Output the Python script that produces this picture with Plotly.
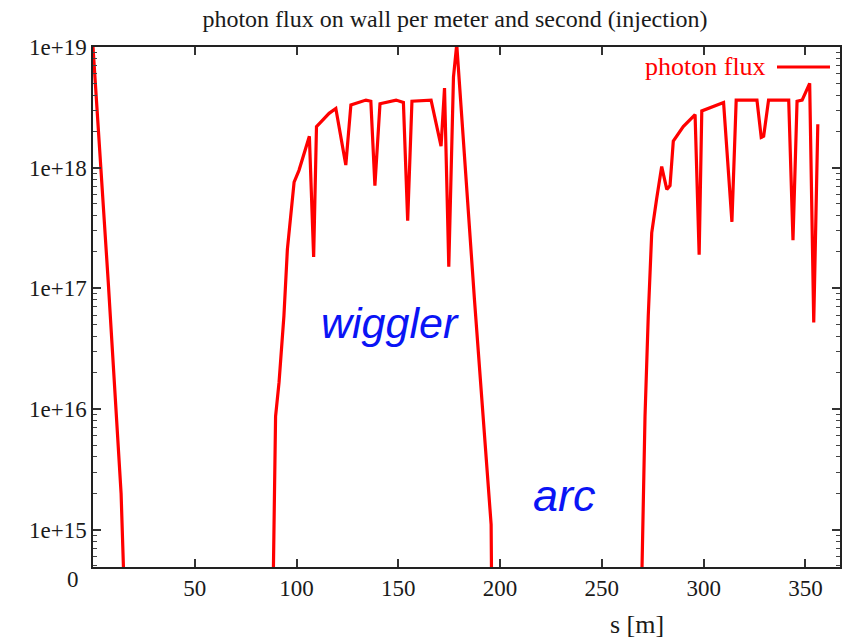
import plotly.graph_objects as go

# ---- data ----
s_wall_start = [0.0, 7.5, 13.8, 15.5]
flux_wall_start = [1.0e19, 1.12e17, 2.0e15, 2.5e14]

s_wiggler = [88.4, 89.7, 91.4, 93.8, 95.5, 98.8, 101.2, 103.7, 106.3, 108.4, 109.8,
             116.0, 119.3, 124.2, 126.7, 134.1, 136.5, 138.5, 141.0, 148.9, 152.5,
             154.6, 156.7, 166.1, 171.0, 172.7, 174.8, 177.1, 178.7, 187.4, 189.9,
             195.6, 195.9]
flux_wiggler = [2.5e14, 8.7e15, 1.66e16, 5.9e16, 2.1e17, 7.6e17, 9.5e17, 1.32e18, 1.82e18,
                1.82e17, 2.19e18, 2.82e18, 3.09e18, 1.05e18, 3.31e18, 3.63e18, 3.55e18,
                7.1e17, 3.39e18, 3.63e18, 3.47e18, 3.63e17, 3.55e18, 3.63e18, 1.51e18,
                4.57e18, 1.51e17, 5.62e18, 1.05e19, 8.1e16, 2.29e16, 1.1e15, 2.5e14]

s_arc = [269.4, 271.2, 272.8, 274.5, 276.9, 279.4, 281.9, 283.5, 285.1, 290.0, 295.8,
         297.8, 299.1, 309.8, 313.9, 316.0, 326.2, 328.3, 329.5, 331.9, 341.8, 343.9,
         345.9, 348.4, 352.1, 354.1, 356.1]
flux_arc = [2.5e14, 8.7e15, 5.9e16, 2.88e17, 5.5e17, 1.02e18, 6.6e17, 7.1e17, 1.66e18,
            2.19e18, 2.75e18, 1.9e17, 2.95e18, 3.47e18, 3.55e17, 3.63e18, 3.63e18,
            1.78e18, 1.82e18, 3.63e18, 3.63e18, 2.51e17, 3.55e18, 3.63e18, 5.0e18,
            5.2e16, 2.29e18]

x_ticks = [50, 100, 150, 200, 250, 300, 350]
y_ticks = [1e15, 1e16, 1e17, 1e18, 1e19]
y_ticktext = ["1e+15", "1e+16", "1e+17", "1e+18", "1e+19"]
y_minor = [m * 10 ** e for e in range(14, 19) for m in range(2, 10)]

s_all = s_wall_start + [None] + s_wiggler + [None] + s_arc
flux_all = flux_wall_start + [None] + flux_wiggler + [None] + flux_arc

# ---- layout geometry ----
W, H = 857, 643
L, R, T, B = 93, 840, 47, 567


def px(x):
    return (x - L) / (R - L)


def py(y):
    return (B - y) / (B - T)


SERIF = "Liberation Serif"
RED = "#ff0000"
TXT = "#1a1a1a"

fig = go.Figure()
fig.add_trace(go.Scatter(x=s_all, y=flux_all, mode="lines",
                         line=dict(color=RED, width=3.2), connectgaps=False,
                         name="photon flux", showlegend=False))
# carrier trace for the minor-tick axis
fig.add_trace(go.Scatter(x=[None], y=[None], yaxis="y2", showlegend=False))

fig.update_layout(
    width=W, height=H,
    margin=dict(l=L, r=W - R, t=T, b=H - B),
    paper_bgcolor="white", plot_bgcolor="white",
    showlegend=False,
    title=dict(text="photon flux on wall per meter and second (injection)",
               font=dict(family=SERIF, size=24, color=TXT),
               xref="paper", x=px(455), xanchor="center",
               yref="container", y=1 - 19 / H, yanchor="middle"),
    xaxis=dict(range=[0, 367], tickvals=x_ticks, ticks="inside", ticklen=8,
               tickwidth=1.5, tickcolor="#333", showline=True, linecolor="#222",
               linewidth=1.5, mirror="ticks", showgrid=False, zeroline=False,
               tickfont=dict(family=SERIF, size=23, color=TXT)),
    yaxis=dict(type="log", range=[14.69, 19.0], tickvals=y_ticks, ticktext=y_ticktext,
               ticks="inside", ticklen=8, tickwidth=1.5, tickcolor="#333",
               showline=True, linecolor="#222", linewidth=1.5, mirror="ticks",
               showgrid=False, zeroline=False,
               tickfont=dict(family=SERIF, size=23, color=TXT)),
    yaxis2=dict(type="log", range=[14.69, 19.0], overlaying="y", side="left",
                anchor="x", tickvals=y_minor, ticks="inside", ticklen=4,
                tickwidth=1.2, tickcolor="#444", showticklabels=False,
                showline=False, mirror="ticks", showgrid=False, zeroline=False),
)

annotations = [
    dict(text="0", x=px(73), y=py(579), font=dict(family=SERIF, size=23, color=TXT)),
    dict(text="s [m]", x=px(637), y=py(624), font=dict(family=SERIF, size=26, color=TXT)),
    dict(text="<i>wiggler</i>", x=px(390), y=py(323),
         font=dict(family="Liberation Sans", size=43, color="#0a14f5")),
    dict(text="<i>arc</i>", x=px(564), y=py(495),
         font=dict(family="Liberation Sans", size=45, color="#0a14f5")),
    dict(text="photon flux", x=px(768), y=py(67), xanchor="right",
         font=dict(family=SERIF, size=26, color=RED)),
]
for a in annotations:
    a.setdefault("xanchor", "center")
    fig.add_annotation(xref="paper", yref="paper", showarrow=False, yanchor="middle", **a)

fig.add_shape(type="line", xref="paper", yref="paper", x0=px(777), x1=px(830),
              y0=py(67), y1=py(67), line=dict(color=RED, width=3))

fig.write_html("out.html")
